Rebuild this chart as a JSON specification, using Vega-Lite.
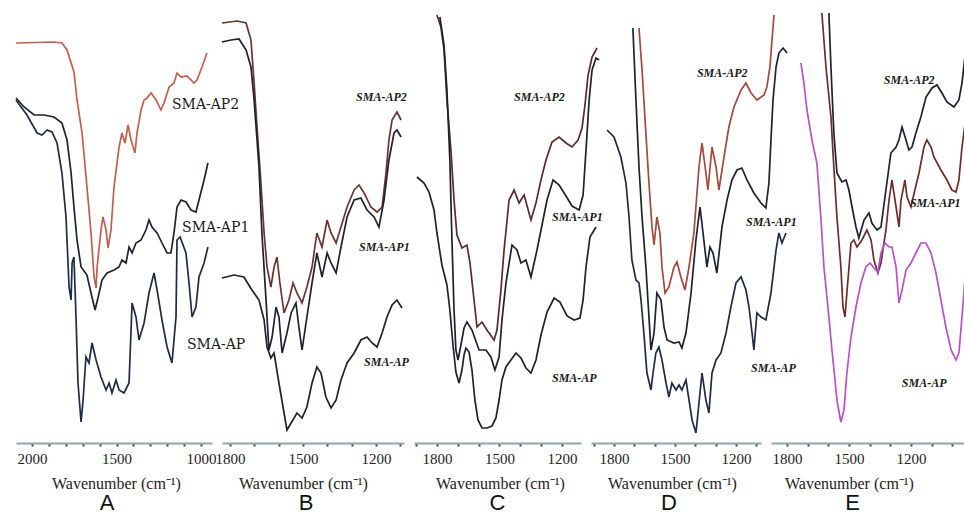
{
"$schema": "https://vega.github.io/schema/vega-lite/v6.json",
"background": "white",
"padding": {"left": 12, "right": 0, "top": 0, "bottom": 0},
"bounds": "flush",
"spacing": 10,
"config": {
  "view": {"stroke": null},
  "axis": {"grid": false, "domainColor": "#8aa7ad", "domainWidth": 2, "tickColor": "#3a4a55", "tickSize": 3, "tickWidth": 2, "labelFont": "Liberation Serif", "labelFontSize": 15, "labelColor": "#222", "labelPadding": 5, "labelFlush": false, "titleFont": "Liberation Serif", "titleFontSize": 16, "titleFontWeight": "normal", "titleColor": "#222", "titlePadding": 9},
  "title": {"orient": "bottom", "font": "Liberation Sans", "fontSize": 22, "fontWeight": "normal", "color": "#111", "offset": 2}
},
"resolve": {"scale": {"x": "independent", "y": "independent", "color": "independent"}},
"datasets": {
"A": [
{"s":"AP2","wn":2095,"v":400},{"s":"AP2","wn":1870,"v":401},{"s":"AP2","wn":1823,"v":400},{"s":"AP2","wn":1793,"v":393},{"s":"AP2","wn":1752,"v":371},{"s":"AP2","wn":1734,"v":343},{"s":"AP2","wn":1704,"v":310},{"s":"AP2","wn":1675,"v":256},{"s":"AP2","wn":1651,"v":210},{"s":"AP2","wn":1633,"v":166},{"s":"AP2","wn":1621,"v":155},{"s":"AP2","wn":1615,"v":176},{"s":"AP2","wn":1592,"v":213},{"s":"AP2","wn":1580,"v":226},{"s":"AP2","wn":1562,"v":213},{"s":"AP2","wn":1550,"v":195},{"s":"AP2","wn":1533,"v":213},{"s":"AP2","wn":1515,"v":256},{"s":"AP2","wn":1485,"v":296},{"s":"AP2","wn":1468,"v":310},{"s":"AP2","wn":1450,"v":300},{"s":"AP2","wn":1432,"v":318},{"s":"AP2","wn":1414,"v":303},{"s":"AP2","wn":1391,"v":290},{"s":"AP2","wn":1379,"v":310},{"s":"AP2","wn":1355,"v":333},{"s":"AP2","wn":1337,"v":343},{"s":"AP2","wn":1320,"v":345},{"s":"AP2","wn":1296,"v":350},{"s":"AP2","wn":1266,"v":343},{"s":"AP2","wn":1237,"v":333},{"s":"AP2","wn":1219,"v":340},{"s":"AP2","wn":1189,"v":356},{"s":"AP2","wn":1160,"v":360},{"s":"AP2","wn":1142,"v":370},{"s":"AP2","wn":1118,"v":366},{"s":"AP2","wn":1083,"v":367},{"s":"AP2","wn":1041,"v":360},{"s":"AP2","wn":1024,"v":363},{"s":"AP2","wn":994,"v":376},{"s":"AP2","wn":965,"v":390},
{"s":"AP1","wn":2095,"v":345},{"s":"AP1","wn":2047,"v":336},{"s":"AP1","wn":1988,"v":328},{"s":"AP1","wn":1929,"v":328},{"s":"AP1","wn":1870,"v":326},{"s":"AP1","wn":1823,"v":320},{"s":"AP1","wn":1793,"v":303},{"s":"AP1","wn":1769,"v":270},{"s":"AP1","wn":1752,"v":236},{"s":"AP1","wn":1734,"v":203},{"s":"AP1","wn":1710,"v":176},{"s":"AP1","wn":1675,"v":168},{"s":"AP1","wn":1651,"v":150},{"s":"AP1","wn":1627,"v":133},{"s":"AP1","wn":1610,"v":145},{"s":"AP1","wn":1586,"v":163},{"s":"AP1","wn":1556,"v":170},{"s":"AP1","wn":1515,"v":173},{"s":"AP1","wn":1485,"v":176},{"s":"AP1","wn":1468,"v":183},{"s":"AP1","wn":1444,"v":180},{"s":"AP1","wn":1426,"v":196},{"s":"AP1","wn":1408,"v":190},{"s":"AP1","wn":1385,"v":200},{"s":"AP1","wn":1355,"v":203},{"s":"AP1","wn":1326,"v":213},{"s":"AP1","wn":1308,"v":223},{"s":"AP1","wn":1290,"v":216},{"s":"AP1","wn":1260,"v":210},{"s":"AP1","wn":1231,"v":200},{"s":"AP1","wn":1201,"v":190},{"s":"AP1","wn":1178,"v":190},{"s":"AP1","wn":1160,"v":210},{"s":"AP1","wn":1142,"v":236},{"s":"AP1","wn":1118,"v":243},{"s":"AP1","wn":1089,"v":241},{"s":"AP1","wn":1059,"v":233},{"s":"AP1","wn":1030,"v":231},{"s":"AP1","wn":1012,"v":243},{"s":"AP1","wn":982,"v":263},{"s":"AP1","wn":959,"v":280},
{"s":"AP","wn":2095,"v":343},{"s":"AP","wn":2030,"v":328},{"s":"AP","wn":1970,"v":310},{"s":"AP","wn":1941,"v":308},{"s":"AP","wn":1911,"v":313},{"s":"AP","wn":1882,"v":311},{"s":"AP","wn":1852,"v":300},{"s":"AP","wn":1823,"v":270},{"s":"AP","wn":1799,"v":226},{"s":"AP","wn":1781,"v":156},{"s":"AP","wn":1769,"v":143},{"s":"AP","wn":1763,"v":180},{"s":"AP","wn":1752,"v":186},{"s":"AP","wn":1740,"v":126},{"s":"AP","wn":1728,"v":60},{"s":"AP","wn":1710,"v":21},{"s":"AP","wn":1698,"v":43},{"s":"AP","wn":1681,"v":86},{"s":"AP","wn":1663,"v":80},{"s":"AP","wn":1645,"v":100},{"s":"AP","wn":1621,"v":83},{"s":"AP","wn":1592,"v":66},{"s":"AP","wn":1562,"v":53},{"s":"AP","wn":1544,"v":60},{"s":"AP","wn":1527,"v":50},{"s":"AP","wn":1503,"v":63},{"s":"AP","wn":1485,"v":53},{"s":"AP","wn":1456,"v":50},{"s":"AP","wn":1426,"v":60},{"s":"AP","wn":1408,"v":140},{"s":"AP","wn":1385,"v":126},{"s":"AP","wn":1367,"v":103},{"s":"AP","wn":1337,"v":120},{"s":"AP","wn":1308,"v":150},{"s":"AP","wn":1278,"v":170},{"s":"AP","wn":1260,"v":153},{"s":"AP","wn":1231,"v":123},{"s":"AP","wn":1201,"v":96},{"s":"AP","wn":1172,"v":80},{"s":"AP","wn":1148,"v":126},{"s":"AP","wn":1142,"v":203},{"s":"AP","wn":1124,"v":206},{"s":"AP","wn":1089,"v":190},{"s":"AP","wn":1071,"v":160},{"s":"AP","wn":1053,"v":126},{"s":"AP","wn":1030,"v":136},{"s":"AP","wn":1012,"v":166},{"s":"AP","wn":982,"v":180},{"s":"AP","wn":959,"v":196}
],
"Alab": [{"t":"SMA-AP2","wn":1172,"v":338},{"t":"SMA-AP1","wn":1112,"v":215},{"t":"SMA-AP","wn":1083,"v":98}],
"B": [
{"s":"AP2","wn":1833,"v":420},{"s":"AP2","wn":1771,"v":422},{"s":"AP2","wn":1734,"v":420},{"s":"AP2","wn":1714,"v":403},{"s":"AP2","wn":1701,"v":360},{"s":"AP2","wn":1689,"v":316},{"s":"AP2","wn":1673,"v":260},{"s":"AP2","wn":1660,"v":210},{"s":"AP2","wn":1648,"v":176},{"s":"AP2","wn":1632,"v":156},{"s":"AP2","wn":1619,"v":176},{"s":"AP2","wn":1607,"v":186},{"s":"AP2","wn":1595,"v":160},{"s":"AP2","wn":1578,"v":130},{"s":"AP2","wn":1558,"v":143},{"s":"AP2","wn":1541,"v":160},{"s":"AP2","wn":1525,"v":150},{"s":"AP2","wn":1504,"v":140},{"s":"AP2","wn":1484,"v":156},{"s":"AP2","wn":1463,"v":176},{"s":"AP2","wn":1443,"v":210},{"s":"AP2","wn":1422,"v":196},{"s":"AP2","wn":1401,"v":223},{"s":"AP2","wn":1385,"v":210},{"s":"AP2","wn":1364,"v":200},{"s":"AP2","wn":1344,"v":216},{"s":"AP2","wn":1319,"v":236},{"s":"AP2","wn":1290,"v":253},{"s":"AP2","wn":1270,"v":258},{"s":"AP2","wn":1249,"v":250},{"s":"AP2","wn":1221,"v":236},{"s":"AP2","wn":1196,"v":231},{"s":"AP2","wn":1175,"v":236},{"s":"AP2","wn":1159,"v":270},{"s":"AP2","wn":1147,"v":303},{"s":"AP2","wn":1134,"v":323},{"s":"AP2","wn":1114,"v":331},{"s":"AP2","wn":1097,"v":323},
{"s":"AP1","wn":1833,"v":401},{"s":"AP1","wn":1796,"v":403},{"s":"AP1","wn":1763,"v":404},{"s":"AP1","wn":1734,"v":393},{"s":"AP1","wn":1714,"v":376},{"s":"AP1","wn":1701,"v":343},{"s":"AP1","wn":1681,"v":276},{"s":"AP1","wn":1669,"v":210},{"s":"AP1","wn":1652,"v":143},{"s":"AP1","wn":1640,"v":93},{"s":"AP1","wn":1627,"v":106},{"s":"AP1","wn":1611,"v":136},{"s":"AP1","wn":1599,"v":126},{"s":"AP1","wn":1586,"v":90},{"s":"AP1","wn":1566,"v":110},{"s":"AP1","wn":1549,"v":130},{"s":"AP1","wn":1529,"v":140},{"s":"AP1","wn":1517,"v":116},{"s":"AP1","wn":1504,"v":93},{"s":"AP1","wn":1484,"v":126},{"s":"AP1","wn":1463,"v":160},{"s":"AP1","wn":1443,"v":190},{"s":"AP1","wn":1422,"v":166},{"s":"AP1","wn":1401,"v":190},{"s":"AP1","wn":1385,"v":180},{"s":"AP1","wn":1364,"v":170},{"s":"AP1","wn":1344,"v":196},{"s":"AP1","wn":1319,"v":226},{"s":"AP1","wn":1290,"v":243},{"s":"AP1","wn":1262,"v":245},{"s":"AP1","wn":1237,"v":233},{"s":"AP1","wn":1208,"v":226},{"s":"AP1","wn":1188,"v":216},{"s":"AP1","wn":1167,"v":243},{"s":"AP1","wn":1147,"v":283},{"s":"AP1","wn":1126,"v":310},{"s":"AP1","wn":1114,"v":313},{"s":"AP1","wn":1097,"v":306},
{"s":"AP","wn":1833,"v":165},{"s":"AP","wn":1784,"v":168},{"s":"AP","wn":1743,"v":166},{"s":"AP","wn":1710,"v":153},{"s":"AP","wn":1681,"v":143},{"s":"AP","wn":1660,"v":123},{"s":"AP","wn":1648,"v":96},{"s":"AP","wn":1632,"v":85},{"s":"AP","wn":1619,"v":90},{"s":"AP","wn":1599,"v":60},{"s":"AP","wn":1578,"v":30},{"s":"AP","wn":1566,"v":13},{"s":"AP","wn":1549,"v":20},{"s":"AP","wn":1525,"v":30},{"s":"AP","wn":1504,"v":25},{"s":"AP","wn":1484,"v":36},{"s":"AP","wn":1463,"v":60},{"s":"AP","wn":1443,"v":76},{"s":"AP","wn":1426,"v":70},{"s":"AP","wn":1406,"v":46},{"s":"AP","wn":1385,"v":35},{"s":"AP","wn":1364,"v":43},{"s":"AP","wn":1344,"v":63},{"s":"AP","wn":1319,"v":80},{"s":"AP","wn":1290,"v":90},{"s":"AP","wn":1262,"v":103},{"s":"AP","wn":1237,"v":106},{"s":"AP","wn":1216,"v":100},{"s":"AP","wn":1196,"v":96},{"s":"AP","wn":1175,"v":110},{"s":"AP","wn":1155,"v":126},{"s":"AP","wn":1134,"v":138},{"s":"AP","wn":1114,"v":143},{"s":"AP","wn":1093,"v":135}
],
"Blab": [{"t":"SMA-AP2","wn":1282,"v":346},{"t":"SMA-AP1","wn":1270,"v":196},{"t":"SMA-AP","wn":1249,"v":81}],
"C": [
{"s":"AP2","wn":1800,"v":428},{"s":"AP2","wn":1781,"v":416},{"s":"AP2","wn":1766,"v":393},{"s":"AP2","wn":1752,"v":343},{"s":"AP2","wn":1733,"v":293},{"s":"AP2","wn":1718,"v":243},{"s":"AP2","wn":1704,"v":208},{"s":"AP2","wn":1680,"v":195},{"s":"AP2","wn":1656,"v":198},{"s":"AP2","wn":1642,"v":181},{"s":"AP2","wn":1622,"v":143},{"s":"AP2","wn":1608,"v":116},{"s":"AP2","wn":1584,"v":121},{"s":"AP2","wn":1560,"v":113},{"s":"AP2","wn":1526,"v":103},{"s":"AP2","wn":1512,"v":113},{"s":"AP2","wn":1493,"v":153},{"s":"AP2","wn":1478,"v":193},{"s":"AP2","wn":1454,"v":243},{"s":"AP2","wn":1430,"v":253},{"s":"AP2","wn":1406,"v":240},{"s":"AP2","wn":1382,"v":248},{"s":"AP2","wn":1349,"v":223},{"s":"AP2","wn":1325,"v":240},{"s":"AP2","wn":1301,"v":263},{"s":"AP2","wn":1277,"v":283},{"s":"AP2","wn":1248,"v":301},{"s":"AP2","wn":1214,"v":306},{"s":"AP2","wn":1181,"v":300},{"s":"AP2","wn":1152,"v":296},{"s":"AP2","wn":1123,"v":303},{"s":"AP2","wn":1104,"v":315},{"s":"AP2","wn":1090,"v":338},{"s":"AP2","wn":1075,"v":368},{"s":"AP2","wn":1056,"v":386},{"s":"AP2","wn":1032,"v":395},
{"s":"AP1","wn":1786,"v":426},{"s":"AP1","wn":1766,"v":398},{"s":"AP1","wn":1752,"v":353},{"s":"AP1","wn":1738,"v":283},{"s":"AP1","wn":1728,"v":203},{"s":"AP1","wn":1718,"v":133},{"s":"AP1","wn":1709,"v":93},{"s":"AP1","wn":1699,"v":83},{"s":"AP1","wn":1685,"v":98},{"s":"AP1","wn":1670,"v":115},{"s":"AP1","wn":1656,"v":121},{"s":"AP1","wn":1632,"v":113},{"s":"AP1","wn":1598,"v":93},{"s":"AP1","wn":1565,"v":93},{"s":"AP1","wn":1541,"v":86},{"s":"AP1","wn":1522,"v":73},{"s":"AP1","wn":1502,"v":86},{"s":"AP1","wn":1488,"v":123},{"s":"AP1","wn":1469,"v":160},{"s":"AP1","wn":1440,"v":198},{"s":"AP1","wn":1416,"v":193},{"s":"AP1","wn":1397,"v":180},{"s":"AP1","wn":1373,"v":183},{"s":"AP1","wn":1349,"v":166},{"s":"AP1","wn":1320,"v":193},{"s":"AP1","wn":1296,"v":218},{"s":"AP1","wn":1272,"v":243},{"s":"AP1","wn":1243,"v":263},{"s":"AP1","wn":1214,"v":258},{"s":"AP1","wn":1181,"v":247},{"s":"AP1","wn":1152,"v":237},{"s":"AP1","wn":1118,"v":233},{"s":"AP1","wn":1099,"v":248},{"s":"AP1","wn":1085,"v":293},{"s":"AP1","wn":1070,"v":343},{"s":"AP1","wn":1056,"v":373},{"s":"AP1","wn":1037,"v":385},{"s":"AP1","wn":1022,"v":383},
{"s":"AP","wn":1896,"v":266},{"s":"AP","wn":1862,"v":260},{"s":"AP","wn":1838,"v":251},{"s":"AP","wn":1814,"v":233},{"s":"AP","wn":1800,"v":210},{"s":"AP","wn":1776,"v":178},{"s":"AP","wn":1752,"v":158},{"s":"AP","wn":1738,"v":133},{"s":"AP","wn":1723,"v":98},{"s":"AP","wn":1709,"v":71},{"s":"AP","wn":1694,"v":60},{"s":"AP","wn":1680,"v":73},{"s":"AP","wn":1670,"v":88},{"s":"AP","wn":1661,"v":95},{"s":"AP","wn":1646,"v":91},{"s":"AP","wn":1632,"v":73},{"s":"AP","wn":1618,"v":43},{"s":"AP","wn":1603,"v":23},{"s":"AP","wn":1584,"v":15},{"s":"AP","wn":1560,"v":15},{"s":"AP","wn":1536,"v":17},{"s":"AP","wn":1517,"v":25},{"s":"AP","wn":1502,"v":43},{"s":"AP","wn":1488,"v":63},{"s":"AP","wn":1469,"v":76},{"s":"AP","wn":1445,"v":83},{"s":"AP","wn":1421,"v":90},{"s":"AP","wn":1397,"v":85},{"s":"AP","wn":1373,"v":75},{"s":"AP","wn":1349,"v":70},{"s":"AP","wn":1325,"v":83},{"s":"AP","wn":1301,"v":108},{"s":"AP","wn":1272,"v":131},{"s":"AP","wn":1238,"v":145},{"s":"AP","wn":1210,"v":141},{"s":"AP","wn":1176,"v":127},{"s":"AP","wn":1142,"v":123},{"s":"AP","wn":1114,"v":125},{"s":"AP","wn":1099,"v":143},{"s":"AP","wn":1085,"v":176},{"s":"AP","wn":1066,"v":206},{"s":"AP","wn":1037,"v":216}
],
"Clab": [{"t":"SMA-AP2","wn":1430,"v":346},{"t":"SMA-AP1","wn":1248,"v":226},{"t":"SMA-AP","wn":1248,"v":65}],
"D": [
{"s":"AP2","wn":1677,"v":415},{"s":"AP2","wn":1662,"v":373},{"s":"AP2","wn":1653,"v":343},{"s":"AP2","wn":1638,"v":293},{"s":"AP2","wn":1628,"v":260},{"s":"AP2","wn":1613,"v":216},{"s":"AP2","wn":1603,"v":198},{"s":"AP2","wn":1589,"v":226},{"s":"AP2","wn":1574,"v":210},{"s":"AP2","wn":1564,"v":176},{"s":"AP2","wn":1549,"v":150},{"s":"AP2","wn":1530,"v":156},{"s":"AP2","wn":1505,"v":176},{"s":"AP2","wn":1490,"v":181},{"s":"AP2","wn":1471,"v":166},{"s":"AP2","wn":1451,"v":153},{"s":"AP2","wn":1431,"v":176},{"s":"AP2","wn":1407,"v":210},{"s":"AP2","wn":1382,"v":276},{"s":"AP2","wn":1367,"v":300},{"s":"AP2","wn":1348,"v":270},{"s":"AP2","wn":1338,"v":253},{"s":"AP2","wn":1318,"v":296},{"s":"AP2","wn":1298,"v":276},{"s":"AP2","wn":1284,"v":253},{"s":"AP2","wn":1259,"v":286},{"s":"AP2","wn":1235,"v":316},{"s":"AP2","wn":1210,"v":336},{"s":"AP2","wn":1175,"v":353},{"s":"AP2","wn":1151,"v":360},{"s":"AP2","wn":1126,"v":350},{"s":"AP2","wn":1097,"v":343},{"s":"AP2","wn":1062,"v":348},{"s":"AP2","wn":1048,"v":356},{"s":"AP2","wn":1033,"v":376},{"s":"AP2","wn":1023,"v":403},{"s":"AP2","wn":1013,"v":428},
{"s":"AP1","wn":1707,"v":415},{"s":"AP1","wn":1692,"v":343},{"s":"AP1","wn":1677,"v":276},{"s":"AP1","wn":1662,"v":226},{"s":"AP1","wn":1643,"v":176},{"s":"AP1","wn":1628,"v":126},{"s":"AP1","wn":1618,"v":93},{"s":"AP1","wn":1603,"v":110},{"s":"AP1","wn":1589,"v":150},{"s":"AP1","wn":1569,"v":143},{"s":"AP1","wn":1554,"v":116},{"s":"AP1","wn":1539,"v":103},{"s":"AP1","wn":1505,"v":100},{"s":"AP1","wn":1480,"v":101},{"s":"AP1","wn":1466,"v":95},{"s":"AP1","wn":1446,"v":110},{"s":"AP1","wn":1421,"v":150},{"s":"AP1","wn":1397,"v":203},{"s":"AP1","wn":1377,"v":236},{"s":"AP1","wn":1362,"v":210},{"s":"AP1","wn":1343,"v":176},{"s":"AP1","wn":1328,"v":196},{"s":"AP1","wn":1313,"v":190},{"s":"AP1","wn":1294,"v":170},{"s":"AP1","wn":1269,"v":216},{"s":"AP1","wn":1244,"v":243},{"s":"AP1","wn":1220,"v":263},{"s":"AP1","wn":1195,"v":273},{"s":"AP1","wn":1171,"v":275},{"s":"AP1","wn":1146,"v":263},{"s":"AP1","wn":1112,"v":250},{"s":"AP1","wn":1077,"v":240},{"s":"AP1","wn":1053,"v":235},{"s":"AP1","wn":1038,"v":260},{"s":"AP1","wn":1028,"v":303},{"s":"AP1","wn":1018,"v":343},{"s":"AP1","wn":1003,"v":376},{"s":"AP1","wn":989,"v":390},{"s":"AP1","wn":969,"v":395},{"s":"AP1","wn":949,"v":390},
{"s":"AP","wn":1834,"v":313},{"s":"AP","wn":1800,"v":306},{"s":"AP","wn":1766,"v":286},{"s":"AP","wn":1741,"v":260},{"s":"AP","wn":1726,"v":226},{"s":"AP","wn":1712,"v":183},{"s":"AP","wn":1692,"v":163},{"s":"AP","wn":1677,"v":160},{"s":"AP","wn":1667,"v":143},{"s":"AP","wn":1653,"v":110},{"s":"AP","wn":1638,"v":70},{"s":"AP","wn":1618,"v":53},{"s":"AP","wn":1608,"v":70},{"s":"AP","wn":1594,"v":90},{"s":"AP","wn":1579,"v":96},{"s":"AP","wn":1564,"v":83},{"s":"AP","wn":1544,"v":60},{"s":"AP","wn":1530,"v":46},{"s":"AP","wn":1515,"v":60},{"s":"AP","wn":1495,"v":53},{"s":"AP","wn":1480,"v":58},{"s":"AP","wn":1466,"v":53},{"s":"AP","wn":1446,"v":63},{"s":"AP","wn":1431,"v":43},{"s":"AP","wn":1416,"v":23},{"s":"AP","wn":1397,"v":10},{"s":"AP","wn":1382,"v":40},{"s":"AP","wn":1367,"v":70},{"s":"AP","wn":1348,"v":43},{"s":"AP","wn":1333,"v":30},{"s":"AP","wn":1318,"v":70},{"s":"AP","wn":1298,"v":83},{"s":"AP","wn":1274,"v":90},{"s":"AP","wn":1249,"v":110},{"s":"AP","wn":1225,"v":136},{"s":"AP","wn":1200,"v":160},{"s":"AP","wn":1175,"v":166},{"s":"AP","wn":1151,"v":153},{"s":"AP","wn":1136,"v":136},{"s":"AP","wn":1121,"v":110},{"s":"AP","wn":1112,"v":93},{"s":"AP","wn":1097,"v":130},{"s":"AP","wn":1077,"v":126},{"s":"AP","wn":1053,"v":123},{"s":"AP","wn":1028,"v":150},{"s":"AP","wn":1003,"v":193},{"s":"AP","wn":989,"v":210},{"s":"AP","wn":974,"v":200},{"s":"AP","wn":954,"v":210}
],
"Dlab": [{"t":"SMA-AP2","wn":1392,"v":370},{"t":"SMA-AP1","wn":1151,"v":221},{"t":"SMA-AP","wn":1126,"v":75}],
"E": [
{"s":"AP2","wn":1597,"v":430},{"s":"AP2","wn":1587,"v":376},{"s":"AP2","wn":1573,"v":310},{"s":"AP2","wn":1558,"v":270},{"s":"AP2","wn":1534,"v":261},{"s":"AP2","wn":1514,"v":263},{"s":"AP2","wn":1500,"v":253},{"s":"AP2","wn":1485,"v":236},{"s":"AP2","wn":1466,"v":216},{"s":"AP2","wn":1452,"v":205},{"s":"AP2","wn":1427,"v":223},{"s":"AP2","wn":1403,"v":230},{"s":"AP2","wn":1389,"v":220},{"s":"AP2","wn":1364,"v":213},{"s":"AP2","wn":1345,"v":216},{"s":"AP2","wn":1321,"v":253},{"s":"AP2","wn":1297,"v":290},{"s":"AP2","wn":1272,"v":296},{"s":"AP2","wn":1258,"v":303},{"s":"AP2","wn":1243,"v":316},{"s":"AP2","wn":1224,"v":303},{"s":"AP2","wn":1210,"v":293},{"s":"AP2","wn":1195,"v":296},{"s":"AP2","wn":1176,"v":310},{"s":"AP2","wn":1152,"v":326},{"s":"AP2","wn":1127,"v":346},{"s":"AP2","wn":1098,"v":355},{"s":"AP2","wn":1074,"v":358},{"s":"AP2","wn":1050,"v":350},{"s":"AP2","wn":1026,"v":341},{"s":"AP2","wn":992,"v":336},{"s":"AP2","wn":968,"v":343},{"s":"AP2","wn":953,"v":360},{"s":"AP2","wn":934,"v":396},{"s":"AP2","wn":929,"v":423},
{"s":"AP1","wn":1631,"v":430},{"s":"AP1","wn":1611,"v":376},{"s":"AP1","wn":1587,"v":326},{"s":"AP1","wn":1573,"v":276},{"s":"AP1","wn":1558,"v":226},{"s":"AP1","wn":1539,"v":176},{"s":"AP1","wn":1529,"v":136},{"s":"AP1","wn":1519,"v":126},{"s":"AP1","wn":1510,"v":150},{"s":"AP1","wn":1490,"v":200},{"s":"AP1","wn":1476,"v":203},{"s":"AP1","wn":1461,"v":196},{"s":"AP1","wn":1437,"v":203},{"s":"AP1","wn":1413,"v":213},{"s":"AP1","wn":1393,"v":203},{"s":"AP1","wn":1379,"v":183},{"s":"AP1","wn":1360,"v":170},{"s":"AP1","wn":1345,"v":180},{"s":"AP1","wn":1321,"v":213},{"s":"AP1","wn":1306,"v":243},{"s":"AP1","wn":1292,"v":263},{"s":"AP1","wn":1272,"v":236},{"s":"AP1","wn":1258,"v":216},{"s":"AP1","wn":1248,"v":243},{"s":"AP1","wn":1229,"v":263},{"s":"AP1","wn":1219,"v":246},{"s":"AP1","wn":1200,"v":236},{"s":"AP1","wn":1181,"v":253},{"s":"AP1","wn":1161,"v":270},{"s":"AP1","wn":1137,"v":296},{"s":"AP1","wn":1123,"v":303},{"s":"AP1","wn":1103,"v":296},{"s":"AP1","wn":1089,"v":286},{"s":"AP1","wn":1055,"v":273},{"s":"AP1","wn":1026,"v":263},{"s":"AP1","wn":1002,"v":253},{"s":"AP1","wn":982,"v":251},{"s":"AP1","wn":968,"v":263},{"s":"AP1","wn":953,"v":296},{"s":"AP1","wn":934,"v":326},{"s":"AP1","wn":924,"v":333},
{"s":"AP","wn":1732,"v":380},{"s":"AP","wn":1718,"v":360},{"s":"AP","wn":1703,"v":333},{"s":"AP","wn":1679,"v":303},{"s":"AP","wn":1655,"v":280},{"s":"AP","wn":1636,"v":226},{"s":"AP","wn":1621,"v":176},{"s":"AP","wn":1597,"v":126},{"s":"AP","wn":1582,"v":93},{"s":"AP","wn":1558,"v":43},{"s":"AP","wn":1539,"v":21},{"s":"AP","wn":1524,"v":33},{"s":"AP","wn":1510,"v":70},{"s":"AP","wn":1490,"v":106},{"s":"AP","wn":1466,"v":136},{"s":"AP","wn":1442,"v":160},{"s":"AP","wn":1418,"v":176},{"s":"AP","wn":1398,"v":180},{"s":"AP","wn":1379,"v":175},{"s":"AP","wn":1360,"v":171},{"s":"AP","wn":1345,"v":190},{"s":"AP","wn":1326,"v":200},{"s":"AP","wn":1306,"v":196},{"s":"AP","wn":1292,"v":196},{"s":"AP","wn":1272,"v":176},{"s":"AP","wn":1258,"v":140},{"s":"AP","wn":1243,"v":153},{"s":"AP","wn":1224,"v":173},{"s":"AP","wn":1200,"v":180},{"s":"AP","wn":1176,"v":190},{"s":"AP","wn":1152,"v":200},{"s":"AP","wn":1127,"v":200},{"s":"AP","wn":1103,"v":190},{"s":"AP","wn":1079,"v":170},{"s":"AP","wn":1055,"v":143},{"s":"AP","wn":1031,"v":116},{"s":"AP","wn":1006,"v":93},{"s":"AP","wn":982,"v":83},{"s":"AP","wn":968,"v":90},{"s":"AP","wn":953,"v":126},{"s":"AP","wn":934,"v":176},{"s":"AP","wn":924,"v":213}
],
"Elab": [{"t":"SMA-AP2","wn":1331,"v":363},{"t":"SMA-AP1","wn":1205,"v":240},{"t":"SMA-AP","wn":1244,"v":60}]
},
"hconcat": [
{
  "width": 196, "height": 443,
  "title": {"text": "A", "dx": -7},
  "encoding": {
    "x": {"field": "wn", "type": "quantitative", "scale": {"domain": [935, 2095], "reverse": true, "nice": false, "zero": false},
          "axis": {"title": "Wavenumber (cm⁻¹)", "titleX": 100, "format": "d", "values": [2000,1900,1800,1700,1600,1500,1400,1300,1200,1100,1000], "labelExpr": "datum.value % 500 === 0 ? datum.label : ''"}},
    "y": {"field": "v", "type": "quantitative", "scale": {"domain": [0, 443], "nice": false, "zero": false}, "axis": null}
  },
  "layer": [
    {"data": {"name": "A"}, "mark": {"type": "line", "strokeWidth": 1.7},
     "encoding": {"color": {"field": "s", "type": "nominal", "scale": {"domain": ["AP2","AP1","AP"], "range": ["#c0604f","#1c2230","#1f2a44"]}, "legend": null}}},
    {"data": {"name": "Alab"}, "mark": {"type": "text", "align": "left", "baseline": "middle", "font": "DejaVu Serif", "fontSize": 14, "color": "#1a1a1a"},
     "encoding": {"text": {"field": "t"}}}
  ]
},
{
  "width": 182, "height": 443,
  "title": {"text": "B", "dx": -7},
  "encoding": {
    "x": {"field": "wn", "type": "quantitative", "scale": {"domain": [1085, 1833], "reverse": true, "nice": false, "zero": false},
          "axis": {"title": "Wavenumber (cm⁻¹)", "titleX": 81, "format": "d", "values": [1800,1700,1600,1500,1400,1300,1200,1100], "labelExpr": "datum.value % 300 === 0 ? datum.label : ''"}},
    "y": {"field": "v", "type": "quantitative", "scale": {"domain": [0, 443], "nice": false, "zero": false}, "axis": null}
  },
  "layer": [
    {"data": {"name": "B"}, "mark": {"type": "line", "strokeWidth": 1.7},
     "encoding": {"color": {"field": "s", "type": "nominal", "scale": {"domain": ["AP2","AP1","AP"], "range": ["#6a3430","#1c2230","#1c2230"]}, "legend": null}}},
    {"data": {"name": "Blab"}, "mark": {"type": "text", "align": "left", "baseline": "middle", "font": "Liberation Serif", "fontStyle": "italic", "fontWeight": "bold", "fontSize": 12, "color": "#1a1a1a"},
     "encoding": {"text": {"field": "t"}}}
  ]
},
{
  "width": 167, "height": 443,
  "title": {"text": "C", "dx": 0},
  "encoding": {
    "x": {"field": "wn", "type": "quantitative", "scale": {"domain": [1109, 1910], "reverse": true, "nice": false, "zero": false},
          "axis": {"title": "Wavenumber (cm⁻¹)", "titleX": 86, "format": "d", "values": [1900,1800,1700,1600,1500,1400,1300,1200], "labelExpr": "datum.value % 300 === 0 ? datum.label : ''"}},
    "y": {"field": "v", "type": "quantitative", "scale": {"domain": [0, 443], "nice": false, "zero": false}, "axis": null}
  },
  "layer": [
    {"data": {"name": "C"}, "mark": {"type": "line", "strokeWidth": 1.7},
     "encoding": {"color": {"field": "s", "type": "nominal", "scale": {"domain": ["AP2","AP1","AP"], "range": ["#5a2a2a","#1c2230","#1c2230"]}, "legend": null}}},
    {"data": {"name": "Clab"}, "mark": {"type": "text", "align": "left", "baseline": "middle", "font": "Liberation Serif", "fontStyle": "italic", "fontWeight": "bold", "fontSize": 12, "color": "#1a1a1a"},
     "encoding": {"text": {"field": "t"}}}
  ]
},
{
  "width": 170, "height": 443,
  "title": {"text": "D", "dx": -7},
  "encoding": {
    "x": {"field": "wn", "type": "quantitative", "scale": {"domain": [1077, 1913], "reverse": true, "nice": false, "zero": false},
          "axis": {"title": "Wavenumber (cm⁻¹)", "titleX": 81, "format": "d", "values": [1900,1800,1700,1600,1500,1400,1300,1200,1100], "labelExpr": "datum.value % 300 === 0 ? datum.label : ''"}},
    "y": {"field": "v", "type": "quantitative", "scale": {"domain": [0, 443], "nice": false, "zero": false}, "axis": null}
  },
  "layer": [
    {"data": {"name": "D"}, "mark": {"type": "line", "strokeWidth": 1.7},
     "encoding": {"color": {"field": "s", "type": "nominal", "scale": {"domain": ["AP2","AP1","AP"], "range": ["#a24a3c","#1c2230","#1f2a44"]}, "legend": null}}},
    {"data": {"name": "Dlab"}, "mark": {"type": "text", "align": "left", "baseline": "middle", "font": "Liberation Serif", "fontStyle": "italic", "fontWeight": "bold", "fontSize": 12, "color": "#1a1a1a"},
     "encoding": {"text": {"field": "t"}}}
  ]
},
{
  "width": 197, "height": 443,
  "title": {"text": "E", "dx": -17},
  "encoding": {
    "x": {"field": "wn", "type": "quantitative", "scale": {"domain": [924, 1877], "reverse": true, "nice": false, "zero": false},
          "axis": {"title": "Wavenumber (cm⁻¹)", "titleX": 78, "format": "d", "values": [1800,1700,1600,1500,1400,1300,1200,1100,1000], "labelExpr": "datum.value % 300 === 0 ? datum.label : ''"}},
    "y": {"field": "v", "type": "quantitative", "scale": {"domain": [0, 443], "nice": false, "zero": false}, "axis": null}
  },
  "layer": [
    {"data": {"name": "E"}, "mark": {"type": "line", "strokeWidth": 1.7},
     "encoding": {"color": {"field": "s", "type": "nominal", "scale": {"domain": ["AP2","AP1","AP"], "range": ["#1c2230","#6b2e2a","#b852c8"]}, "legend": null}}},
    {"data": {"name": "Elab"}, "mark": {"type": "text", "align": "left", "baseline": "middle", "font": "Liberation Serif", "fontStyle": "italic", "fontWeight": "bold", "fontSize": 12, "color": "#1a1a1a"},
     "encoding": {"text": {"field": "t"}}}
  ]
}
]
}
